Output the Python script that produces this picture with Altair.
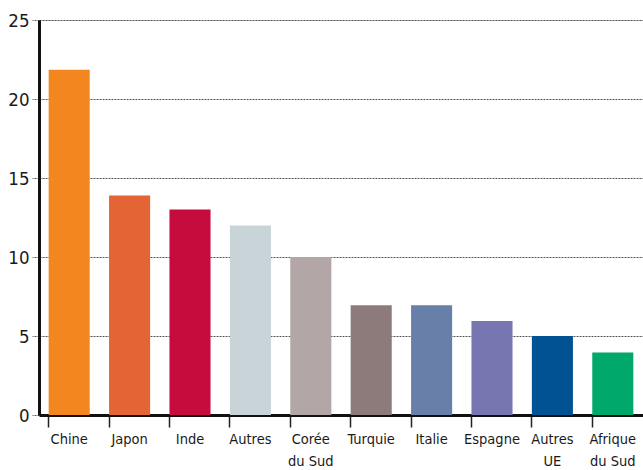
import altair as alt
import pandas as pd

categories = ["Chine", "Japon", "Inde", "Autres", "Corée du Sud", "Turquie",
              "Italie", "Espagne", "Autres UE", "Afrique du Sud"]
values = [21.85, 13.9, 13.0, 12.0, 10.0, 6.95, 6.95, 5.95, 5.0, 3.95]
colors = ["#F4861F", "#E36535", "#C60C3C", "#C9D4D9", "#B2A6A6", "#8C7B7A",
          "#677FA9", "#7876B1", "#005293", "#00A86B"]
y_ticks = [0, 5, 10, 15, 20, 25]

df = pd.DataFrame({"pays": categories, "valeur": values})

font = "DejaVu Sans Condensed"

label_expr = ("indexof(datum.label, ' ') > 0 ? "
              "[substring(datum.label, 0, indexof(datum.label, ' ')), "
              "substring(datum.label, indexof(datum.label, ' ') + 1)] : datum.label")

chart = alt.Chart(df).mark_bar().encode(
    x=alt.X("pays:N", sort=categories, title=None,
            scale=alt.Scale(paddingInner=0.32, paddingOuter=0.16),
            axis=alt.Axis(labelAngle=0, labelFont=font, labelFontSize=14.5,
                          labelColor="#1a1a1a", labelPadding=5,
                          labelLineHeight=22, labelExpr=label_expr,
                          bandPosition=0, tickSize=12, tickWidth=1.5,
                          tickColor="#222222", domainColor="#111111",
                          domainWidth=3, grid=False)),
    y=alt.Y("valeur:Q", title=None,
            scale=alt.Scale(domain=[0, 25], nice=False),
            axis=alt.Axis(values=y_ticks, labelFont=font, labelFontSize=18.5,
                          labelColor="#1a1a1a", labelPadding=3,
                          tickSize=7, tickColor="#555555", tickWidth=1,
                          tickDash=[2, 1], domainColor="#111111",
                          domainWidth=3, grid=True, gridColor="#555555",
                          gridDash=[2, 1], gridWidth=1)),
    color=alt.Color("pays:N", sort=categories,
                    scale=alt.Scale(domain=categories, range=colors),
                    legend=None),
).properties(
    width=604, height=395,
    padding={"left": 39, "top": 20, "right": 0, "bottom": 55},
    autosize=alt.AutoSizeParams(type="none"),
).configure_view(stroke=None).configure(background="white")

chart.save("out.html", embed_options={"renderer": "svg", "actions": False})
